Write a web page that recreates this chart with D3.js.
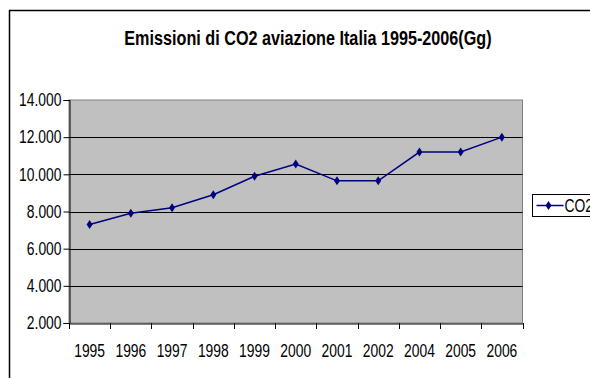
<!DOCTYPE html>
<html>
<head>
<meta charset="utf-8">
<script src="https://cdn.jsdelivr.net/npm/d3@7"></script>
<style>
  html, body { margin: 0; padding: 0; background: #fff; }
  svg { display: block; font-family: "Liberation Sans", Arial, sans-serif; }
</style>
</head>
<body>
<div id="chart"></div>
<script>
const years = ['1995', '1996', '1997', '1998', '1999', '2000', '2001', '2002', '2004', '2005', '2006'];
const co2 = [7300, 7900, 8200, 8900, 9900, 10550, 9650, 9650, 11200, 11200, 12000];
const yTicks = [2000, 4000, 6000, 8000, 10000, 12000, 14000];
const title = 'Emissioni di CO2 aviazione Italia 1995-2006(Gg)';
const seriesName = 'CO2';

const width = 590, height = 378;
const plot = { left: 69, right: 522.5, top: 100, bottom: 323 };
const navy = '#000080';

const svg = d3.select('#chart').append('svg')
  .attr('width', width)
  .attr('height', height);

// squeeze text horizontally, the original uses a very narrow face
function condense(sel, k) {
  sel.each(function () {
    const w = this.getComputedTextLength();
    d3.select(this)
      .attr('textLength', w * k)
      .attr('lengthAdjust', 'spacingAndGlyphs');
  });
}

// chart area border (runs off the right and bottom edges)
svg.append('rect')
  .attr('x', 9.5).attr('y', 10.5)
  .attr('width', 620).attr('height', 420)
  .attr('fill', '#fff')
  .attr('stroke', '#000')
  .attr('stroke-width', 1.5);

svg.append('text')
  .attr('x', 308).attr('y', 45)
  .attr('text-anchor', 'middle')
  .attr('font-size', 20)
  .attr('font-weight', 'bold')
  .text(title)
  .call(condense, 0.81);

const x = d3.scaleBand().domain(years).range([plot.left, plot.right]);
const y = d3.scaleLinear().domain([2000, 14000]).range([plot.bottom, plot.top]);

svg.append('rect')
  .attr('x', plot.left).attr('y', plot.top)
  .attr('width', plot.right - plot.left)
  .attr('height', plot.bottom - plot.top)
  .attr('fill', '#c0c0c0')
  .attr('stroke', '#808080')
  .attr('stroke-width', 1);

svg.append('g')
  .selectAll('line')
  .data(yTicks.filter(d => d > 2000 && d < 14000))
  .enter()
  .append('line')
    .attr('x1', plot.left).attr('x2', plot.right)
    .attr('y1', d => Math.round(y(d)) + 0.5)
    .attr('y2', d => Math.round(y(d)) + 0.5)
    .attr('stroke', '#000');

const yAxis = svg.append('g')
  .attr('transform', `translate(${plot.left + 0.5},0)`)
  .call(d3.axisLeft(y).tickValues(yTicks).tickSize(6).tickPadding(2)
    .tickFormat(d => d3.format(',')(d).replace(',', '.')));
yAxis.select('.domain').attr('stroke', '#000');
yAxis.selectAll('text')
  .attr('font-size', 18)
  .attr('fill', '#000')
  .call(condense, 0.77);

const xAxis = svg.append('g')
  .attr('transform', `translate(0,${plot.bottom + 0.5})`)
  .call(d3.axisBottom(x).tickSize(0).tickPadding(21));
xAxis.select('.domain').attr('stroke', '#000');
xAxis.selectAll('text')
  .attr('font-size', 18)
  .attr('fill', '#000')
  .call(condense, 0.77);

// category separators below the axis
svg.append('g')
  .selectAll('line')
  .data(years.concat(['end']))
  .enter()
  .append('line')
    .attr('x1', (d, i) => Math.round(plot.left + i * x.step()) + 0.5)
    .attr('x2', (d, i) => Math.round(plot.left + i * x.step()) + 0.5)
    .attr('y1', plot.bottom)
    .attr('y2', plot.bottom + 6)
    .attr('stroke', '#000');

const line = d3.line()
  .x((d, i) => x(years[i]) + x.bandwidth() / 2)
  .y(d => y(d));

svg.append('path')
  .datum(co2)
  .attr('d', line)
  .attr('fill', 'none')
  .attr('stroke', navy)
  .attr('stroke-width', 1.5);

const diamond = 'M0,-4.5L3,0L0,4.5L-3,0Z';

svg.append('g')
  .selectAll('path')
  .data(co2)
  .enter()
  .append('path')
    .attr('d', diamond)
    .attr('transform', (d, i) => `translate(${x(years[i]) + x.bandwidth() / 2},${y(d)})`)
    .attr('fill', navy);

// legend
const legend = svg.append('g').attr('transform', 'translate(532.5,194.5)');
legend.append('rect')
  .attr('width', 80).attr('height', 22)
  .attr('fill', '#fff')
  .attr('stroke', '#000');
legend.append('line')
  .attr('x1', 4).attr('x2', 31)
  .attr('y1', 11).attr('y2', 11)
  .attr('stroke', navy)
  .attr('stroke-width', 1.5);
legend.append('path')
  .attr('d', diamond)
  .attr('transform', 'translate(16,11)')
  .attr('fill', navy);
legend.append('text')
  .attr('x', 32).attr('y', 17.5)
  .attr('font-size', 18)
  .text(seriesName)
  .call(condense, 0.77);
</script>
</body>
</html>
